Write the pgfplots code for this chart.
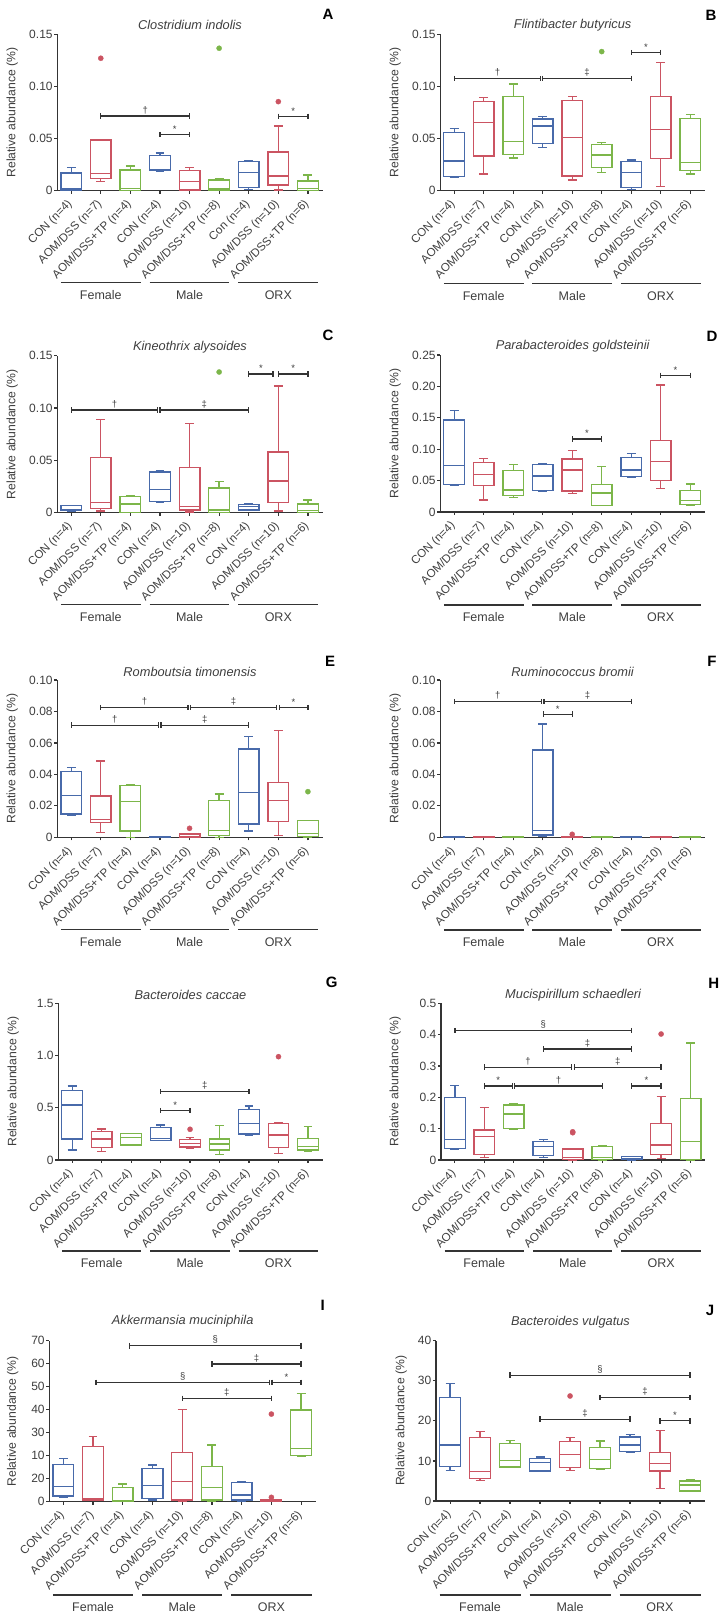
\documentclass[border=0pt]{standalone}
\usepackage{fontspec}
\setmainfont{Liberation Sans}
\usepackage{pgfplots}
\pgfplotsset{compat=1.18}
\usepgfplotslibrary{statistics}

\definecolor{cblue}{RGB}{72,106,170}
\definecolor{cred}{RGB}{203,84,98}
\definecolor{cgreen}{RGB}{124,182,74}
\definecolor{axc}{RGB}{52,52,52}
\definecolor{txc}{RGB}{62,62,62}

\newcommand{\tickf}{\fontsize{12}{14}\selectfont}
\newcommand{\catf}{\fontsize{11.6}{14}\selectfont}
\newcommand{\labf}{\fontsize{12.2}{14}\selectfont}
\newcommand{\ttlf}{\fontsize{12.8}{15}\selectfont\itshape}
\newcommand{\grpf}{\fontsize{12.5}{14}\selectfont}
\newcommand{\symf}{\fontsize{9.5}{10}\selectfont}
\newcommand{\letf}{\fontsize{15}{17}\selectfont\bfseries}

\pgfplotsset{
 panel/.style={
  scale only axis, anchor=south west, clip=false,
  xmin=-0.47, xmax=8.5, ymin=0,
  axis x line*=bottom, axis y line*=left,
  axis line style={line width=1.2pt, draw=axc},
  xtick={0,1,2,3,4,5,6,7,8},
  xticklabels={CON (n=4),AOM/DSS (n=7),AOM/DSS+TP (n=4),CON (n=4),AOM/DSS (n=10),AOM/DSS+TP (n=8),CON (n=4),AOM/DSS (n=10),AOM/DSS+TP (n=6)},
  tick align=outside, major tick length=3pt,
  tick style={line width=1.2pt, draw=axc},
  xticklabel style={rotate=45, anchor=east, font=\catf, text=txc, inner sep=1pt},
  xticklabel shift=8pt,
  yticklabel style={font=\tickf, text=txc, inner sep=1.5pt},
  boxplot/draw direction=y,
  boxplot/box extend=0.7, boxplot/whisker extend=0.3,
 },
}

% box: pos, lower whisker, q1, median, q3, upper whisker, colour
\newcommand{\bxp}[7]{\addplot[boxplot prepared={draw position=#1, lower whisker=#2, lower quartile=#3, median=#4, upper quartile=#5, upper whisker=#6}, draw=#7, line width=1.3pt] coordinates {};}
% box with outliers
\newcommand{\bxq}[8]{\addplot[boxplot prepared={draw position=#1, lower whisker=#2, lower quartile=#3, median=#4, upper quartile=#5, upper whisker=#6}, draw=#7, line width=1.3pt, mark=*, mark size=2.6pt, mark options={solid, fill=#7, draw=#7, line width=0.3pt}] table[row sep=\\, y index=0] {data\\ #8};}
% bracket: x1, x2, y, symbol
\newcommand{\brk}[4]{\addplot[draw=axc, line width=1.3pt, mark=|, mark size=2.8pt, mark options={solid, line width=1.3pt, draw=axc}] coordinates {(#1,#3) (#2,#3)} node[pos=0.5, above=1.5pt, font=\symf, text=txc, inner sep=0pt] {#4};}
\newcommand{\grp}[1]{%
 \draw[draw=axc, line width=1.2pt] ([yshift=-#1pt]axis cs:-0.35,0) -- ([yshift=-#1pt]axis cs:2.35,0);
 \draw[draw=axc, line width=1.2pt] ([yshift=-#1pt]axis cs:2.65,0) -- ([yshift=-#1pt]axis cs:5.35,0);
 \draw[draw=axc, line width=1.2pt] ([yshift=-#1pt]axis cs:5.65,0) -- ([yshift=-#1pt]axis cs:8.35,0);
 \node[font=\grpf, text=txc] at ([yshift=-#1pt-12.5pt]axis cs:1,0) {Female};
 \node[font=\grpf, text=txc] at ([yshift=-#1pt-12.5pt]axis cs:4,0) {Male};
 \node[font=\grpf, text=txc] at ([yshift=-#1pt-12.5pt]axis cs:7,0) {ORX};
}
\newcommand{\ttl}[2]{\node[font=\ttlf, text=txc] at ([yshift=#1pt]rel axis cs:0.5,1) {#2};}
\newcommand{\ylab}[1]{\node[rotate=90, font=\labf, text=txc] at ([xshift=-#1pt]rel axis cs:0,0.5) {Relative abundance (\%)};}

\begin{document}
\begin{tikzpicture}
\path[use as bounding box] (0pt,0pt) rectangle (724pt,1616pt);

% ---------------- A
\begin{axis}[panel, at={(57.3pt,1425.3pt)}, width=265.4pt, height=156.4pt,
  ymax=0.15, ytick={0,0.05,0.1,0.15}, yticklabels={0,0.05,0.10,0.15},
  xticklabels={CON (n=4),AOM/DSS (n=7),AOM/DSS+TP (n=4),CON (n=4),AOM/DSS (n=10),AOM/DSS+TP (n=8),Con (n=4),AOM/DSS (n=10),AOM/DSS+TP (n=6)}]
\bxp{0}{0}{0.0005}{0.0015}{0.017}{0.022}{cblue}
\bxq{1}{0.0086}{0.0115}{0.0166}{0.0485}{0.0485}{cred}{0.127\\}
\bxp{2}{0}{0}{0.0022}{0.0198}{0.0237}{cgreen}
\bxp{3}{0.019}{0.0192}{0.0198}{0.0336}{0.0361}{cblue}
\bxp{4}{0}{0.0006}{0.0086}{0.0192}{0.022}{cred}
\bxq{5}{0}{0.0006}{0.0022}{0.0102}{0.0118}{cgreen}{0.1366\\}
\bxp{6}{0.001}{0.0032}{0.0173}{0.0278}{0.0291}{cblue}
\bxq{7}{0.0006}{0.0054}{0.0141}{0.0371}{0.062}{cred}{0.0854\\}
\bxp{8}{0}{0}{0.002}{0.0093}{0.015}{cgreen}
\brk{1}{4}{0.0716}{†}
\brk{3}{4}{0.0537}{*}
\brk{7}{8}{0.0713}{*}
\grp{92}
\ttl{9.3}{Clostridium indolis}
\ylab{45}
\end{axis}

% ---------------- B
\begin{axis}[panel, at={(440.3pt,1425.3pt)}, width=264.7pt, height=156.4pt,
  ymax=0.15, ytick={0,0.05,0.1,0.15}, yticklabels={0,0.05,0.10,0.15}]
\bxp{0}{0.0125}{0.0134}{0.0285}{0.0557}{0.0598}{cblue}
\bxp{1}{0.016}{0.0333}{0.0656}{0.0854}{0.0892}{cred}
\bxp{2}{0.0313}{0.0349}{0.047}{0.0902}{0.1023}{cgreen}
\bxp{3}{0.0416}{0.0454}{0.062}{0.0688}{0.071}{cblue}
\bxp{4}{0.0102}{0.0141}{0.0509}{0.0864}{0.0902}{cred}
\bxq{5}{0.0173}{0.0224}{0.0342}{0.0445}{0.046}{cgreen}{0.1334\\}
\bxp{6}{0.001}{0.0032}{0.0173}{0.0278}{0.0294}{cblue}
\bxp{7}{0.0038}{0.031}{0.0588}{0.0902}{0.1228}{cred}
\bxp{8}{0.016}{0.0192}{0.0269}{0.0694}{0.0732}{cgreen}
\brk{0}{2.93}{0.1075}{†}
\brk{3}{6}{0.1075}{‡}
\brk{6}{7}{0.1324}{*}
\grp{93}
\ttl{9.3}{Flintibacter butyricus}
\ylab{45}
\end{axis}

% ---------------- C
\begin{axis}[panel, at={(57.3pt,1103.3pt)}, width=265.4pt, height=157pt,
  ymax=0.15, ytick={0,0.05,0.1,0.15}, yticklabels={0,0.05,0.10,0.15}]
\bxp{0}{0.0013}{0.0019}{0.0032}{0.007}{0.007}{cblue}
\bxp{1}{0.0016}{0.0038}{0.0096}{0.0529}{0.0892}{cred}
\bxp{2}{0}{0}{0.0083}{0.0153}{0.0162}{cgreen}
\bxp{3}{0.0102}{0.0105}{0.0223}{0.0389}{0.0398}{cblue}
\bxp{4}{0.0006}{0.0025}{0.0057}{0.043}{0.0854}{cred}
\bxq{5}{0}{0}{0.0025}{0.0236}{0.0296}{cgreen}{0.1344\\}
\bxp{6}{0.0022}{0.0025}{0.0057}{0.008}{0.0083}{cblue}
\bxp{7}{0.0016}{0.0099}{0.0303}{0.058}{0.121}{cred}
\bxp{8}{0}{0}{0.0019}{0.0083}{0.0121}{cgreen}
\brk{0}{2.92}{0.0981}{†}
\brk{3}{6}{0.0981}{‡}
\brk{6}{6.82}{0.1325}{*}
\brk{7}{8}{0.1325}{*}
\grp{91.6}
\ttl{8.7}{Kineothrix alysoides}
\ylab{45}
\end{axis}

% ---------------- D
\begin{axis}[panel, at={(440.3pt,1104pt)}, width=264.7pt, height=157pt,
  ymax=0.25, ytick={0,0.05,0.1,0.15,0.2,0.25}, yticklabels={0,0.05,0.10,0.15,0.20,0.25}]
\bxp{0}{0.0425}{0.0441}{0.0738}{0.1465}{0.1614}{cblue}
\bxp{1}{0.0191}{0.0419}{0.06}{0.0791}{0.0849}{cred}
\bxp{2}{0.0234}{0.026}{0.035}{0.0658}{0.0754}{cgreen}
\bxp{3}{0.0324}{0.034}{0.0573}{0.0754}{0.0764}{cblue}
\bxp{4}{0.0297}{0.0334}{0.0669}{0.0844}{0.0977}{cred}
\bxp{5}{0.0101}{0.0101}{0.0303}{0.0435}{0.0722}{cgreen}
\bxp{6}{0.0547}{0.0563}{0.0669}{0.087}{0.0929}{cblue}
\bxp{7}{0.0377}{0.0504}{0.0807}{0.1136}{0.2022}{cred}
\bxp{8}{0.0101}{0.0122}{0.018}{0.034}{0.0446}{cgreen}
\brk{4}{5}{0.1162}{*}
\brk{7}{8}{0.2176}{*}
\grp{93}
\ttl{8.7}{Parabacteroides goldsteinii}
\ylab{45}
\end{axis}

% ---------------- E
\begin{axis}[panel, at={(57.3pt,778.7pt)}, width=265.4pt, height=157.3pt,
  ymax=0.1, ytick={0,0.02,0.04,0.06,0.08,0.1}, yticklabels={0,0.02,0.04,0.06,0.08,0.10}]
\bxp{0}{0.0142}{0.0148}{0.0265}{0.0417}{0.0445}{cblue}
\bxp{1}{0.003}{0.0093}{0.0114}{0.0263}{0.0485}{cred}
\bxp{2}{0}{0.004}{0.0229}{0.0328}{0.0337}{cgreen}
\bxp{3}{0}{0}{0.0002}{0.0006}{0.0006}{cblue}
\bxq{4}{0}{0}{0.0005}{0.002}{0.002}{cred}{0.0057\\}
\bxp{5}{0}{0.0013}{0.0044}{0.0233}{0.0275}{cgreen}
\bxp{6}{0.004}{0.0085}{0.0284}{0.0561}{0.064}{cblue}
\bxp{7}{0.001}{0.01}{0.0235}{0.035}{0.0678}{cred}
\bxq{8}{0}{0.0004}{0.0025}{0.0106}{0.0106}{cgreen}{0.029\\}
\brk{1}{3.95}{0.0824}{†}
\brk{4.03}{6.95}{0.0824}{‡}
\brk{7.03}{8}{0.0824}{*}
\brk{0}{2.95}{0.0712}{†}
\brk{3.03}{6}{0.0712}{‡}
\grp{92}
\ttl{8}{Romboutsia timonensis}
\ylab{45}
\end{axis}

% ---------------- F
\begin{axis}[panel, at={(440.3pt,778.7pt)}, width=264.7pt, height=157.3pt,
  ymax=0.1, ytick={0,0.02,0.04,0.06,0.08,0.1}, yticklabels={0,0.02,0.04,0.06,0.08,0.10}]
\bxp{0}{0}{0}{0}{0.0007}{0.0007}{cblue}
\bxp{1}{0}{0}{0}{0.0007}{0.0007}{cred}
\bxp{2}{0}{0}{0}{0.0007}{0.0007}{cgreen}
\bxp{3}{0.0006}{0.0015}{0.0042}{0.0555}{0.072}{cblue}
\bxq{4}{0}{0}{0}{0.0007}{0.0007}{cred}{0.0019\\}
\bxp{5}{0}{0}{0}{0.0007}{0.0007}{cgreen}
\bxp{6}{0}{0}{0}{0.0007}{0.0007}{cblue}
\bxp{7}{0}{0}{0}{0.0007}{0.0007}{cred}
\bxp{8}{0}{0}{0}{0.0007}{0.0007}{cgreen}
\brk{0}{2.96}{0.0862}{†}
\brk{3.04}{6}{0.0862}{‡}
\brk{3.02}{4}{0.0782}{*}
\grp{92.7}
\ttl{8}{Ruminococcus bromii}
\ylab{45}
\end{axis}

% ---------------- G
\begin{axis}[panel, at={(58.3pt,456pt)}, width=264.4pt, height=156.7pt,
  ymax=1.5, ytick={0,0.5,1,1.5}, yticklabels={0,0.5,1.0,1.5}]
\bxp{0}{0.096}{0.201}{0.527}{0.664}{0.7085}{cblue}
\bxp{1}{0.08}{0.121}{0.201}{0.271}{0.297}{cred}
\bxp{2}{0.137}{0.144}{0.214}{0.252}{0.255}{cgreen}
\bxp{3}{0.185}{0.185}{0.207}{0.31}{0.335}{cblue}
\bxq{4}{0.112}{0.124}{0.16}{0.195}{0.214}{cred}{0.294\\}
\bxp{5}{0.054}{0.096}{0.153}{0.201}{0.329}{cgreen}
\bxp{6}{0.233}{0.249}{0.351}{0.485}{0.517}{cblue}
\bxq{7}{0.064}{0.118}{0.239}{0.348}{0.354}{cred}{0.989\\}
\bxp{8}{0.086}{0.096}{0.128}{0.207}{0.319}{cgreen}
\brk{3}{6}{0.654}{‡}
\brk{3}{4}{0.472}{*}
\grp{91}
\ttl{8.3}{Bacteroides caccae}
\ylab{45}
\end{axis}

% ---------------- H
\begin{axis}[panel, at={(441pt,456pt)}, width=264.3pt, height=156.7pt,
  ymax=0.5, ytick={0,0.1,0.2,0.3,0.4,0.5}, yticklabels={0,0.1,0.2,0.3,0.4,0.5}]
\bxp{0}{0.035}{0.037}{0.066}{0.199}{0.237}{cblue}
\bxp{1}{0.0074}{0.018}{0.0745}{0.0957}{0.167}{cred}
\bxp{2}{0.097}{0.101}{0.147}{0.1755}{0.179}{cgreen}
\bxp{3}{0.0074}{0.0138}{0.0426}{0.0585}{0.065}{cblue}
\bxq{4}{0}{0.002}{0.0085}{0.035}{0.035}{cred}{0.087\\ 0.090\\}
\bxp{5}{0}{0.002}{0.0085}{0.0426}{0.0457}{cgreen}
\bxp{6}{0}{0.001}{0.005}{0.0106}{0.0106}{cblue}
\bxq{7}{0.005}{0.018}{0.048}{0.116}{0.203}{cred}{0.402\\}
\bxp{8}{0}{0.002}{0.0585}{0.197}{0.373}{cgreen}
\brk{0}{6}{0.413}{§}
\brk{3}{6}{0.354}{‡}
\brk{1}{3.97}{0.296}{†}
\brk{4.05}{7}{0.296}{‡}
\brk{1}{1.95}{0.236}{*}
\brk{2.03}{5}{0.236}{†}
\brk{6}{7}{0.236}{*}
\grp{91}
\ttl{8.3}{Mucispirillum schaedleri}
\ylab{45.7}
\end{axis}

% ---------------- I
\begin{axis}[panel, at={(49.3pt,114.3pt)}, width=266.7pt, height=161pt,
  ymax=70, ytick={0,10,20,30,40,50,60,70}, yticklabels={0,20,10,30,40,50,60,70}]
\bxp{0}{1.7}{2.5}{6.5}{16.2}{18.8}{cblue}
\bxp{1}{0.7}{0.7}{1.4}{23.9}{28.5}{cred}
\bxp{2}{0}{0}{0.3}{6.2}{7.7}{cgreen}
\bxp{3}{0.7}{1.4}{7.0}{14.5}{15.9}{cblue}
\bxp{4}{0.3}{0.7}{8.7}{21.3}{40.0}{cred}
\bxp{5}{0.3}{0.7}{6.1}{15.2}{24.6}{cgreen}
\bxp{6}{0.3}{0.7}{2.9}{8.3}{8.7}{cblue}
\bxq{7}{0}{0.2}{0.5}{1.0}{1.0}{cred}{38.1\\ 1.9\\}
\bxp{8}{19.9}{20.0}{23.2}{39.9}{47.0}{cgreen}
\brk{2.23}{8}{67.8}{§}
\brk{5}{8}{59.9}{‡}
\brk{1.1}{6.93}{51.9}{§}
\brk{7.02}{8}{51.9}{*}
\brk{4}{7}{44.9}{‡}
\grp{93.3}
\ttl{19.7}{Akkermansia muciniphila}
\ylab{36.6}
\end{axis}

% ---------------- J
\begin{axis}[panel, at={(436pt,115pt)}, width=269pt, height=160.3pt,
  ymax=40, ytick={0,10,20,30,40}, yticklabels={0,10,20,30,40}]
\bxp{0}{7.6}{8.6}{14.0}{25.8}{29.3}{cblue}
\bxp{1}{5.1}{5.7}{7.3}{15.8}{17.3}{cred}
\bxp{2}{8.5}{8.5}{10.1}{14.3}{15.1}{cgreen}
\bxp{3}{7.5}{7.5}{9.6}{10.6}{11.0}{cblue}
\bxq{4}{7.6}{8.3}{11.6}{14.8}{15.8}{cred}{26.2\\}
\bxp{5}{7.9}{8.1}{10.4}{13.3}{15.0}{cgreen}
\bxp{6}{12.1}{12.3}{14.0}{16.0}{16.6}{cblue}
\bxp{7}{3.2}{7.5}{9.4}{12.1}{17.6}{cred}
\bxp{8}{2.3}{2.5}{4.0}{5.0}{5.3}{cgreen}
\brk{2}{8}{31.4}{§}
\brk{5}{8}{25.8}{‡}
\brk{3}{6}{20.4}{‡}
\brk{7}{8}{20.0}{*}
\grp{94}
\ttl{19}{Bacteroides vulgatus}
\ylab{34.7}
\end{axis}

% panel letters
\node[font=\letf] at (328pt,1602pt) {A};
\node[font=\letf] at (711pt,1601pt) {B};
\node[font=\letf] at (328pt,1281pt) {C};
\node[font=\letf] at (712pt,1280pt) {D};
\node[font=\letf] at (330pt,955pt) {E};
\node[font=\letf] at (712pt,955pt) {F};
\node[font=\letf] at (331.7pt,634pt) {G};
\node[font=\letf] at (713.7pt,633pt) {H};
\node[font=\letf] at (322.7pt,310.3pt) {I};
\node[font=\letf] at (710pt,306pt) {J};
\end{tikzpicture}
\end{document}
